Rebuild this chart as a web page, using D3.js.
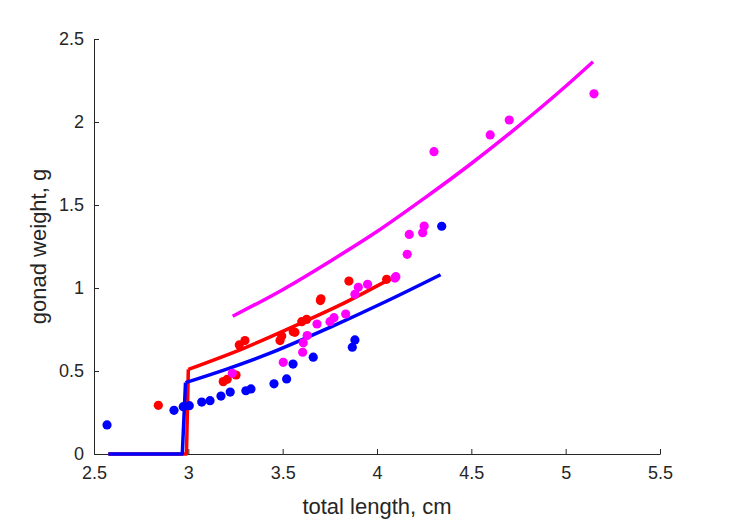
<!DOCTYPE html>
<html>
<head>
<meta charset="utf-8">
<script src="https://cdn.jsdelivr.net/npm/d3@7"></script>
<style>
  body { margin: 0; background: #fff; }
</style>
</head>
<body>
<div id="chart"></div>
<script>
// points, [total length, gonad weight]
let bluePts = [
  [2.569, 0.175], [2.924, 0.263], [2.973, 0.285], [3.005, 0.291], [3.071, 0.313],
  [3.115, 0.321], [3.173, 0.349], [3.222, 0.373], [3.305, 0.381], [3.332, 0.392],
  [3.454, 0.423], [3.521, 0.452], [3.555, 0.542], [3.662, 0.583], [3.869, 0.643],
  [3.883, 0.687], [4.343, 1.372]
];
let redPts = [
  [2.841, 0.293], [3.185, 0.436], [3.206, 0.450], [3.253, 0.476], [3.270, 0.657],
  [3.300, 0.683], [3.486, 0.683], [3.495, 0.711], [3.556, 0.737], [3.565, 0.733],
  [3.601, 0.797], [3.627, 0.811], [3.700, 0.924], [3.703, 0.935], [3.851, 1.042],
  [4.051, 1.052]
];
let magentaPts = [
  [3.233, 0.486], [3.503, 0.552], [3.606, 0.613], [3.609, 0.670], [3.630, 0.714],
  [3.682, 0.783], [3.751, 0.797], [3.772, 0.821], [3.834, 0.843], [3.883, 0.962],
  [3.901, 1.004], [3.950, 1.022], [4.095, 1.060], [4.100, 1.068], [4.160, 1.203],
  [4.171, 1.323], [4.242, 1.333], [4.250, 1.373], [4.302, 1.821], [4.600, 1.922],
  [4.701, 2.012], [5.150, 2.170]
];

// step part of the fitted lines (before the rise)
let blueStep = [[2.576, 0], [2.968, 0], [2.985, 0.43]];
let redStep = [[2.576, 0], [2.99, 0], [3.0, 0.51]];
// curved part of the fitted lines
let blueFit = [
  [2.985, 0.43], [3.2, 0.51], [3.433, 0.607], [3.751, 0.763], [4.05, 0.92], [4.337, 1.08]
];
let redFit = [
  [3.0, 0.51], [3.3, 0.64], [3.6, 0.79], [3.8, 0.895], [4.046, 1.04]
];
let magentaFit = [
  [3.235, 0.83], [3.5, 0.99], [3.75, 1.16], [4.0, 1.34], [4.25, 1.54],
  [4.5, 1.75], [4.75, 1.975], [5.0, 2.215], [5.145, 2.363]
];

let xTicks = [2.5, 3, 3.5, 4, 4.5, 5, 5.5];
let yTicks = [0, 0.5, 1, 1.5, 2, 2.5];

let attrs = {
  width: 729,
  height: 521,
  left: 94,
  right: 660,
  top: 39,
  bottom: 454,
  axisColor: "#262626",
  font: "'Liberation Sans', Arial, sans-serif",
  tickFont: 18,
  labelFont: 22,
  lineWidth: 3.5,
  dotRadius: 4.6
};

let svg = d3
  .select("#chart")
  .append("svg")
  .attr("width", attrs.width)
  .attr("height", attrs.height);

let x = d3.scaleLinear().domain([2.5, 5.5]).range([attrs.left, attrs.right]);
let y = d3.scaleLinear().domain([0, 2.5]).range([attrs.bottom, attrs.top]);

// x axis, ticks pointing inward
let xAxis = svg
  .append("g")
  .attr("transform", "translate(0," + attrs.bottom + ")")
  .call(d3.axisBottom(x).tickValues(xTicks).tickSizeInner(-5).tickSizeOuter(0).tickPadding(12).tickFormat(d3.format("")));

// y axis
let yAxis = svg
  .append("g")
  .attr("transform", "translate(" + attrs.left + ",0)")
  .call(d3.axisLeft(y).tickValues(yTicks).tickSizeInner(-5).tickSizeOuter(0).tickPadding(10).tickFormat(d3.format("")));

[xAxis, yAxis].forEach(function (g) {
  g.select(".domain").attr("stroke", attrs.axisColor).attr("stroke-width", 1);
  g.selectAll(".tick line").attr("stroke", attrs.axisColor);
  g.selectAll(".tick text")
    .attr("fill", attrs.axisColor)
    .attr("font-family", attrs.font)
    .attr("font-size", attrs.tickFont);
});

// axis labels
svg
  .append("text")
  .attr("x", (attrs.left + attrs.right) / 2)
  .attr("y", 514)
  .attr("text-anchor", "middle")
  .attr("font-family", attrs.font)
  .attr("font-size", attrs.labelFont)
  .attr("fill", attrs.axisColor)
  .text("total length, cm");

svg
  .append("text")
  .attr("transform", "translate(46," + (attrs.top + attrs.bottom) / 2 + ") rotate(-90)")
  .attr("text-anchor", "middle")
  .attr("font-family", attrs.font)
  .attr("font-size", attrs.labelFont)
  .attr("fill", attrs.axisColor)
  .text("gonad weight, g");

let line = d3
  .line()
  .x(function (d) { return x(d[0]); })
  .y(function (d) { return y(d[1]); });

let smooth = d3
  .line()
  .curve(d3.curveMonotoneX)
  .x(function (d) { return x(d[0]); })
  .y(function (d) { return y(d[1]); });

function drawLine(d, color) {
  svg.append("path").attr("d", d).attr("fill", "none")
    .attr("stroke", color).attr("stroke-width", attrs.lineWidth)
    .attr("stroke-linejoin", "round");
}

// fitted lines
drawLine(smooth(magentaFit), "#ff00ff");
drawLine(line(redStep), "#ff0000");
drawLine(smooth(redFit), "#ff0000");
drawLine(line(blueStep), "#0000ff");
drawLine(smooth(blueFit), "#0000ff");

// dots
function dots(data, color) {
  svg
    .append("g")
    .selectAll("circle")
    .data(data)
    .enter()
    .append("circle")
    .attr("cx", function (d) { return x(d[0]); })
    .attr("cy", function (d) { return y(d[1]); })
    .attr("r", attrs.dotRadius)
    .attr("fill", color);
}
dots(redPts, "#ff0000");
dots(bluePts, "#0000ff");
dots(magentaPts, "#ff00ff");
</script>
</body>
</html>
